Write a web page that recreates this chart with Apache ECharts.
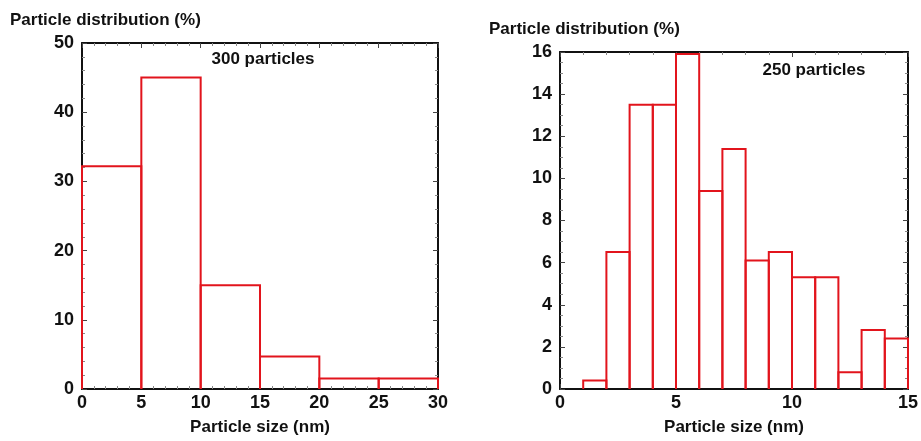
<!DOCTYPE html>
<html>
<head>
<meta charset="utf-8">
<script src="https://cdn.jsdelivr.net/npm/echarts@6/dist/echarts.min.js"></script>
<style>
  html, body { margin: 0; padding: 0; background: #fff; }
  #chart { width: 921px; height: 441px; }
</style>
</head>
<body>
<div id="chart"></div>
<script>
// left histogram: 300 particles, bins of 5 nm
var leftBinStart = [0, 5, 10, 15, 20, 25];
var leftBinEnd = [5, 10, 15, 20, 25, 30];
var leftValues = [32.2, 45.0, 15.0, 4.7, 1.5, 1.5];

// right histogram: 250 particles, bins of 1 nm
var rightBinStart = [1, 2, 3, 4, 5, 6, 7, 8, 9, 10, 11, 12, 13, 14];
var rightBinEnd = [2, 3, 4, 5, 6, 7, 8, 9, 10, 11, 12, 13, 14, 15];
var rightValues = [0.4, 6.5, 13.5, 13.5, 15.9, 9.4, 11.4, 6.1, 6.5, 5.3, 5.3, 0.8, 2.8, 2.4];

var yTitle = "Particle distribution (%)";
var xTitle = "Particle size (nm)";
var leftNote = "300 particles";
var rightNote = "250 particles";

var fontFam = "'Liberation Sans', Arial, sans-serif";
var red = "#e2141c";

function zipBins(a, b, v) {
    var out = [];
    for (var i = 0; i < v.length; i++) {
        out.push([a[i], b[i], v[i]]);
    }
    return out;
}

// draw one bin as open box (top + two sides), so the axis stays black
function drawBin(params, api) {
    var topL = api.coord([api.value(0), api.value(2)]);
    var botL = api.coord([api.value(0), 0]);
    var topR = api.coord([api.value(1), api.value(2)]);
    var botR = api.coord([api.value(1), 0]);
    return {
        type: "polyline",
        shape: { points: [botL, topL, topR, botR] },
        style: { fill: null, stroke: red, lineWidth: 2 }
    };
}

function makeX(idx, min, max, step, pos, showLabel) {
    return {
        type: "value", gridIndex: idx, min: min, max: max, interval: step, position: pos,
        name: showLabel ? xTitle : "",
        nameLocation: "middle", nameGap: 30,
        nameTextStyle: { fontFamily: fontFam, fontWeight: "bold", fontSize: 17, color: "#111" },
        axisLine: { show: true, onZero: false, lineStyle: { color: "#111", width: 2 } },
        axisTick: { show: true, inside: true, length: 5, lineStyle: { color: "#444" } },
        minorTick: { show: true, splitNumber: 5, length: 3, lineStyle: { color: "#888" } },
        axisLabel: { show: showLabel, margin: 5, fontFamily: fontFam, fontWeight: "bold", fontSize: 18, color: "#111" },
        splitLine: { show: false }
    };
}

function makeY(idx, min, max, step, minorSplit, pos, showLabel) {
    return {
        type: "value", gridIndex: idx, min: min, max: max, interval: step, position: pos,
        axisLine: { show: true, onZero: false, lineStyle: { color: "#111", width: 2 } },
        axisTick: { show: true, inside: true, length: 5, lineStyle: { color: "#444" } },
        minorTick: { show: true, splitNumber: minorSplit, length: 3, lineStyle: { color: "#888" } },
        axisLabel: { show: showLabel, margin: 8, fontFamily: fontFam, fontWeight: "bold", fontSize: 18, color: "#111" },
        splitLine: { show: false }
    };
}

var chart = echarts.init(document.getElementById("chart"));

var option = {
    backgroundColor: "#fff",
    animation: false,
    grid: [
        { left: 82, top: 43, width: 356, height: 355 },
        { left: 560, top: 52, width: 349, height: 348 }
    ],
    xAxis: [
        makeX(0, 0, 30, 5, "bottom", true),
        makeX(0, 0, 30, 5, "top", false),
        makeX(1, 0, 15, 5, "bottom", true),
        makeX(1, 0, 15, 5, "top", false)
    ],
    yAxis: [
        makeY(0, 0, 50, 10, 5, "left", true),
        makeY(0, 0, 50, 10, 5, "right", false),
        makeY(1, 0, 16, 2, 4, "left", true),
        makeY(1, 0, 16, 2, 4, "right", false)
    ],
    graphic: [
        { type: "text", x: 10, y: 20, style: { text: yTitle, font: "bold 17px " + fontFam, fill: "#111", textVerticalAlign: "middle" } },
        { type: "text", x: 489, y: 29, style: { text: yTitle, font: "bold 17px " + fontFam, fill: "#111", textVerticalAlign: "middle" } },
        { type: "text", x: 263, y: 59, style: { text: leftNote, font: "bold 17px " + fontFam, fill: "#111", textAlign: "center", textVerticalAlign: "middle" } },
        { type: "text", x: 814, y: 70, style: { text: rightNote, font: "bold 17px " + fontFam, fill: "#111", textAlign: "center", textVerticalAlign: "middle" } }
    ],
    series: [
        {
            type: "custom", xAxisIndex: 0, yAxisIndex: 0,
            renderItem: drawBin,
            encode: { x: [0, 1], y: 2 },
            data: zipBins(leftBinStart, leftBinEnd, leftValues),
            z: 1
        },
        {
            type: "custom", xAxisIndex: 2, yAxisIndex: 2,
            renderItem: drawBin,
            encode: { x: [0, 1], y: 2 },
            data: zipBins(rightBinStart, rightBinEnd, rightValues),
            z: 1
        }
    ]
};

chart.setOption(option);
</script>
</body>
</html>
